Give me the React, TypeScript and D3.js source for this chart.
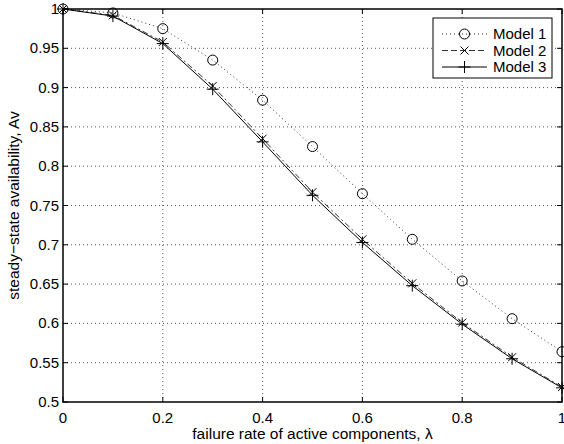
import { useEffect, useRef } from 'react';
import * as d3 from 'd3';

const lambdas = [0, 0.1, 0.2, 0.3, 0.4, 0.5, 0.6, 0.7, 0.8, 0.9, 1.0];
const model1 = [1, 0.995, 0.975, 0.935, 0.884, 0.825, 0.765, 0.707, 0.654, 0.606, 0.564];
const model2 = [1, 0.992, 0.958, 0.902, 0.835, 0.767, 0.707, 0.651, 0.601, 0.557, 0.519];
const model3 = [1, 0.991, 0.956, 0.898, 0.831, 0.763, 0.703, 0.648, 0.599, 0.555, 0.518];
const xTicks = [0, 0.2, 0.4, 0.6, 0.8, 1];
const yTicks = [0.5, 0.55, 0.6, 0.65, 0.7, 0.75, 0.8, 0.85, 0.9, 0.95, 1];
const seriesNames = ['Model 1', 'Model 2', 'Model 3'];

const W = 564, H = 444;
const m = { left: 63, right: 2, top: 9, bottom: 42 };

const drawChart = (el: SVGSVGElement) => {
  const svg = d3.select(el);
  svg.selectAll('*').remove();
  const font = 'Liberation Sans, Arial, Helvetica, sans-serif';

  const x = d3.scaleLinear().domain([0, 1]).range([m.left, W - m.right]);
  const y = d3.scaleLinear().domain([0.5, 1]).range([H - m.bottom, m.top]);

  svg.append('rect').attr('width', W).attr('height', H).attr('fill', 'white');

  // grid
  const grid = svg.append('g').attr('stroke', '#555').attr('stroke-width', 1).attr('stroke-dasharray', '1,3');
  xTicks.slice(1, -1).forEach(t => {
    grid.append('line').attr('x1', x(t)).attr('x2', x(t)).attr('y1', y(0.5)).attr('y2', y(1));
  });
  yTicks.slice(1, -1).forEach(t => {
    grid.append('line').attr('x1', x(0)).attr('x2', x(1)).attr('y1', y(t)).attr('y2', y(t));
  });

  // tick marks on all four sides
  const ticks = svg.append('g').attr('stroke', 'black').attr('stroke-width', 1);
  xTicks.forEach(t => {
    ticks.append('line').attr('x1', x(t)).attr('x2', x(t)).attr('y1', y(0.5)).attr('y2', y(0.5) - 5);
    ticks.append('line').attr('x1', x(t)).attr('x2', x(t)).attr('y1', y(1)).attr('y2', y(1) + 5);
  });
  yTicks.forEach(t => {
    ticks.append('line').attr('x1', x(0)).attr('x2', x(0) + 5).attr('y1', y(t)).attr('y2', y(t));
    ticks.append('line').attr('x1', x(1)).attr('x2', x(1) - 5).attr('y1', y(t)).attr('y2', y(t));
  });

  // axes box
  svg.append('rect')
    .attr('x', x(0)).attr('y', y(1))
    .attr('width', x(1) - x(0)).attr('height', y(0.5) - y(1))
    .attr('fill', 'none').attr('stroke', 'black').attr('stroke-width', 1.5);

  // tick labels
  svg.append('g').selectAll('text').data(xTicks).enter().append('text')
    .attr('x', d => x(d)).attr('y', y(0.5) + 21)
    .attr('text-anchor', 'middle').attr('font-family', font).attr('font-size', 15)
    .text(d => String(d));
  svg.append('g').selectAll('text').data(yTicks).enter().append('text')
    .attr('x', x(0) - 4).attr('y', d => y(d) + 5)
    .attr('text-anchor', 'end').attr('font-family', font).attr('font-size', 15)
    .text(d => String(d));

  // axis labels
  svg.append('text')
    .attr('x', (x(0) + x(1)) / 2).attr('y', H - 5)
    .attr('text-anchor', 'middle').attr('font-family', font).attr('font-size', 15.5)
    .text('failure rate of active components, λ');
  svg.append('text')
    .attr('transform', `translate(19, ${(y(0.5) + y(1)) / 2}) rotate(-90)`)
    .attr('text-anchor', 'middle').attr('font-family', font).attr('font-size', 15.5)
    .text('steady−state availability, Av');

  const line = d3.line<number>().x((d, i) => x(lambdas[i])).y(d => y(d));
  const dashes = ['1,3', '6,3,2,3', null];
  const widths = [0.8, 0.8, 1];
  const allData = [model1, model2, model3];

  const marker = (g: any, kind: number, cx: number, cy: number) => {
    if (kind === 0) {
      g.append('circle').attr('cx', cx).attr('cy', cy).attr('r', 5)
        .attr('fill', 'none').attr('stroke', 'black').attr('stroke-width', 1);
    } else if (kind === 1) {
      const s = 4;
      g.append('path').attr('d', `M${cx - s},${cy - s}L${cx + s},${cy + s}M${cx - s},${cy + s}L${cx + s},${cy - s}`)
        .attr('stroke', 'black').attr('stroke-width', 1);
    } else {
      const s = 6;
      g.append('path').attr('d', `M${cx - s},${cy}L${cx + s},${cy}M${cx},${cy - s}L${cx},${cy + s}`)
        .attr('stroke', 'black').attr('stroke-width', 1);
    }
  };

  allData.forEach((data, k) => {
    const g = svg.append('g');
    const p = g.append('path').datum(data).attr('d', line)
      .attr('fill', 'none').attr('stroke', 'black').attr('stroke-width', widths[k]);
    if (dashes[k]) p.attr('stroke-dasharray', dashes[k]);
    data.forEach((v, i) => marker(g, k, x(lambdas[i]), y(v)));
  });

  // legend
  const lg = svg.append('g');
  lg.append('rect').attr('x', 433).attr('y', 18).attr('width', 119).attr('height', 60)
    .attr('fill', 'white').attr('stroke', 'black').attr('stroke-width', 1);
  seriesNames.forEach((name, k) => {
    const ry = 34 + k * 16.5;
    const l = lg.append('line').attr('x1', 442).attr('x2', 487).attr('y1', ry).attr('y2', ry)
      .attr('stroke', 'black').attr('stroke-width', widths[k]);
    if (dashes[k]) l.attr('stroke-dasharray', k === 1 ? '6,3' : dashes[k]);
    marker(lg, k, 464.5, ry);
    lg.append('text').attr('x', 493).attr('y', ry + 5)
      .attr('font-family', font).attr('font-size', 15).text(name);
  });
};

const App = () => {
  const ref = useRef<SVGSVGElement>(null);
  useEffect(() => {
    if (ref.current) drawChart(ref.current);
  }, []);
  return (
    <div style={{ position: 'absolute', left: 0, top: 0 }}>
      <svg ref={ref} width={W} height={H} style={{ display: 'block' }} />
    </div>
  );
};

export default App;
